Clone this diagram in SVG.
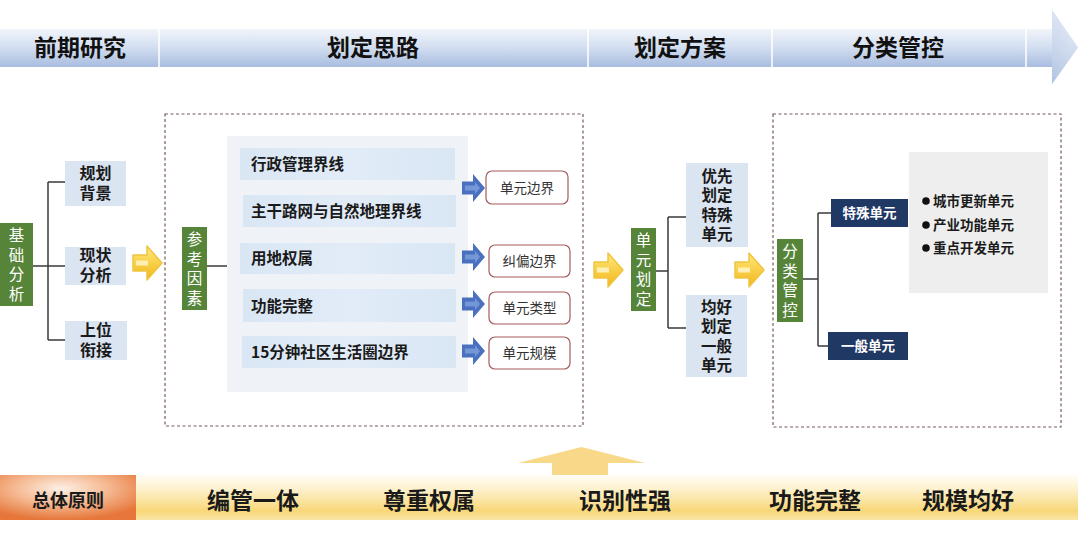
<svg xmlns="http://www.w3.org/2000/svg" width="1078" height="550" viewBox="0 0 1078 550">
<defs>
<linearGradient id="gBanner" x1="0" y1="0" x2="0" y2="1">
<stop offset="0" stop-color="#f1f5fb"/>
<stop offset="0.45" stop-color="#d5e0f1"/>
<stop offset="1" stop-color="#a9bde0"/>
</linearGradient>
<linearGradient id="gHead" x1="0" y1="0" x2="1" y2="0">
<stop offset="0" stop-color="#bccbe6"/>
<stop offset="1" stop-color="#dfe7f4"/>
</linearGradient>
<linearGradient id="gBar" x1="0" y1="0" x2="0" y2="1">
<stop offset="0" stop-color="#fffdf6"/>
<stop offset="0.35" stop-color="#fdf0c8"/>
<stop offset="0.8" stop-color="#f8d778"/>
<stop offset="1" stop-color="#fbe6a8"/>
</linearGradient>
<radialGradient id="gOrange" cx="0.45" cy="0.3" r="0.7">
<stop offset="0" stop-color="#fdf0e6"/>
<stop offset="0.5" stop-color="#f5b890"/>
<stop offset="1" stop-color="#e6763a"/>
</radialGradient>
<linearGradient id="gYellow" x1="0" y1="0" x2="0" y2="1">
<stop offset="0" stop-color="#ffe97a"/>
<stop offset="1" stop-color="#f2b619"/>
</linearGradient>
<linearGradient id="gRow" x1="0" y1="0" x2="1" y2="0">
<stop offset="0" stop-color="#d9e6f4"/>
<stop offset="0.5" stop-color="#e2ecf8"/>
<stop offset="1" stop-color="#d9e6f4"/>
</linearGradient>
<g id="yArrow">
<polygon points="0,-8 14,-8 14,-17 29,0 14,17 14,8 0,8" fill="url(#gYellow)" stroke="#f0c441" stroke-width="1.5" stroke-linejoin="round"/>
<rect x="3" y="-2.5" width="12" height="5" fill="#fff6c8" opacity="0.85"/>
</g>
<g id="bArrow">
<polygon points="0,-6.5 11,-6.5 11,-14 23,0 11,14 11,6.5 0,6.5" fill="#4a70c0"/>
<polygon points="3,-2.5 13,-2.5 13,-6 18,0 13,6 13,2.5 3,2.5" fill="#8fb0e6" opacity="0.6"/>
</g>
</defs>
<style>
text{font-family:"Noto Sans CJK SC","Noto Sans",sans-serif;}
.ban{font-size:23px;font-weight:700;fill:#111;text-anchor:middle;}
.green{fill:#56853a;}
.gt{font-size:15.5px;fill:#ffffff;text-anchor:middle;writing-mode:vertical-rl;letter-spacing:4px;}
.lb{fill:#dbe5f1;}
.bt{font-size:16px;font-weight:700;fill:#1a1a1a;text-anchor:middle;}
.bt4{font-size:15.5px;font-weight:700;fill:#1a1a1a;text-anchor:middle;}
.row{fill:url(#gRow);}
.rt{font-size:15.5px;font-weight:700;fill:#1a1a1a;}
.rb{fill:#ffffff;stroke:#a45c5e;stroke-width:1.2;}
.rbt{font-size:13.5px;fill:#333;text-anchor:middle;}
.navy{fill:#1f3864;}
.nt{font-size:13.5px;font-weight:700;fill:#ffffff;text-anchor:middle;}
.li{font-size:13.5px;font-weight:700;fill:#1a1a1a;}
.dash{fill:none;stroke:#7a5a5a;stroke-width:1.2;stroke-dasharray:3 2.5;}
.conn{fill:none;stroke:#3a3a3a;stroke-width:1.5;}
.bot{font-size:23px;font-weight:700;fill:#1a1a1a;text-anchor:middle;}
</style>
<rect width="1078" height="550" fill="#ffffff"/>

<g id="banner">
<rect x="0" y="29" width="1053" height="38" fill="url(#gBanner)"/>
<polygon points="1052,10 1078,47.5 1052,84" fill="url(#gHead)"/>
<polygon points="1052,29 1052,10 1078,47.5 1052,84 1052,67" fill="url(#gBanner)" opacity="0.6"/>
<line x1="159" y1="29" x2="159" y2="67" stroke="#ffffff" stroke-width="1.5"/>
<line x1="588" y1="29" x2="588" y2="67" stroke="#ffffff" stroke-width="1.5"/>
<line x1="772" y1="29" x2="772" y2="67" stroke="#ffffff" stroke-width="1.5"/>
<line x1="1026" y1="29" x2="1026" y2="67" stroke="#ffffff" stroke-width="1.5"/>
<text class="ban" x="80" y="56">前期研究</text>
<text class="ban" x="373" y="56">划定思路</text>
<text class="ban" x="680" y="56">划定方案</text>
<text class="ban" x="898" y="56">分类管控</text>
</g>

<g id="connectors">
<path class="conn" d="M33,266 H48 M48,182 V340 M48,182 H65 M48,266 H65 M48,340 H65"/>
<path class="conn" d="M207,266 H227"/>
<path class="conn" d="M656,271 H668 M668,217 V328 M668,217 H686 M668,328 H686"/>
<path class="conn" d="M803,279 H818 M818,213 V346 M818,213 H831 M818,346 H828"/>
</g>

<g id="jichu">
<rect class="green" x="0" y="223" width="33" height="83"/>
<text class="gt" x="16.5" y="266.5">基础分析</text>
</g>
<g id="beijing">
<rect class="lb" x="65" y="161" width="61" height="45"/>
<text class="bt"><tspan x="95.5" y="179">规划</tspan><tspan x="95.5" y="199">背景</tspan></text>
</g>
<g id="xianzhuang">
<rect class="lb" x="65" y="247" width="61" height="38"/>
<text class="bt"><tspan x="95.5" y="261">现状</tspan><tspan x="95.5" y="281">分析</tspan></text>
</g>
<g id="shangwei">
<rect class="lb" x="65" y="321" width="62" height="39"/>
<text class="bt"><tspan x="96" y="336">上位</tspan><tspan x="96" y="356">衔接</tspan></text>
</g>
<g id="arrow1"><use href="#yArrow" x="133" y="263"/></g>

<g id="siLu">
<rect class="dash" x="165" y="114" width="418" height="312"/>
<rect x="227" y="136" width="241" height="256" fill="#eff2f6"/>
</g>
<g id="cankao">
<rect class="green" x="182" y="227" width="25" height="83"/>
<text class="gt" x="194.5" y="270.5">参考因素</text>
</g>
<g id="row1"><rect class="row" x="240" y="148" width="215" height="32"/><text class="rt" x="251" y="169.5">行政管理界线</text></g>
<g id="row2"><rect class="row" x="243" y="195" width="213" height="32"/><text class="rt" x="251" y="216.5">主干路网与自然地理界线</text></g>
<g id="row3"><rect class="row" x="240" y="243" width="215" height="31"/><text class="rt" x="251" y="263.5">用地权属</text></g>
<g id="row4"><rect class="row" x="243" y="289" width="213" height="33"/><text class="rt" x="251" y="311.5">功能完整</text></g>
<g id="row5"><rect class="row" x="242" y="336" width="214" height="32"/><text class="rt" x="251" y="357.5">15分钟社区生活圈边界</text></g>

<g id="ba1"><use href="#bArrow" x="462" y="188"/></g>
<g id="ba2"><use href="#bArrow" x="462" y="257"/></g>
<g id="ba3"><use href="#bArrow" x="462" y="304"/></g>
<g id="ba4"><use href="#bArrow" x="462" y="351"/></g>

<g id="r1"><rect class="rb" x="486" y="171" width="82" height="33" rx="6"/><text class="rbt" x="527" y="192.5">单元边界</text></g>
<g id="r2"><rect class="rb" x="489" y="245" width="81" height="32" rx="6"/><text class="rbt" x="529.5" y="266">纠偏边界</text></g>
<g id="r3"><rect class="rb" x="489" y="292" width="81" height="32" rx="6"/><text class="rbt" x="529.5" y="313">单元类型</text></g>
<g id="r4"><rect class="rb" x="489" y="337" width="81" height="32" rx="6"/><text class="rbt" x="529.5" y="358">单元规模</text></g>

<g id="arrow2"><use href="#yArrow" x="594" y="270"/></g>

<g id="danyuan">
<rect class="green" x="631" y="228" width="25" height="83"/>
<text class="gt" x="643.5" y="271.5">单元划定</text>
</g>
<g id="youxian">
<rect class="lb" x="686" y="163" width="62" height="84"/>
<text class="bt4"><tspan x="717" y="181.5">优先</tspan><tspan x="717" y="201">划定</tspan><tspan x="717" y="220.5">特殊</tspan><tspan x="717" y="240">单元</tspan></text>
</g>
<g id="junhao">
<rect class="lb" x="686" y="295" width="61" height="82"/>
<text class="bt4"><tspan x="716.5" y="312.5">均好</tspan><tspan x="716.5" y="332">划定</tspan><tspan x="716.5" y="351.5">一般</tspan><tspan x="716.5" y="371">单元</tspan></text>
</g>

<g id="arrow3"><use href="#yArrow" x="735" y="270"/></g>

<g id="guankong">
<rect class="dash" x="773" y="114" width="288" height="313"/>
</g>
<g id="fenlei">
<rect class="green" x="777" y="239" width="26" height="83"/>
<text class="gt" x="790" y="282.5">分类管控</text>
</g>
<g id="teshu">
<rect class="navy" x="831" y="199" width="77" height="28"/>
<text class="nt" x="869.5" y="218">特殊单元</text>
</g>
<g id="yiban">
<rect class="navy" x="828" y="332" width="80" height="28"/>
<text class="nt" x="868" y="351">一般单元</text>
</g>
<g id="teshuList">
<rect x="909" y="152" width="139" height="141" fill="#eeeeee"/>
<circle cx="926" cy="201" r="3.8" fill="#111"/>
<text class="li" x="933" y="205.5">城市更新单元</text>
<circle cx="926" cy="225" r="3.8" fill="#111"/>
<text class="li" x="933" y="229.5">产业功能单元</text>
<circle cx="926" cy="248" r="3.8" fill="#111"/>
<text class="li" x="933" y="252.5">重点开发单元</text>
</g>

<g id="principles">
<polygon points="518,463 552,463 552,476 608,476 608,463 645,463 581.5,447" fill="#f8d98a"/>
<rect x="136" y="475" width="942" height="45" fill="url(#gBar)"/>
<rect x="0" y="475" width="136" height="45" fill="url(#gOrange)"/>
<text x="68" y="507" style="font-size:18px;font-weight:700;fill:#1a1a1a;text-anchor:middle;">总体原则</text>
<text class="bot" x="253" y="509">编管一体</text>
<text class="bot" x="429" y="509">尊重权属</text>
<text class="bot" x="625" y="509">识别性强</text>
<text class="bot" x="815" y="509">功能完整</text>
<text class="bot" x="968" y="509">规模均好</text>
</g>
</svg>
